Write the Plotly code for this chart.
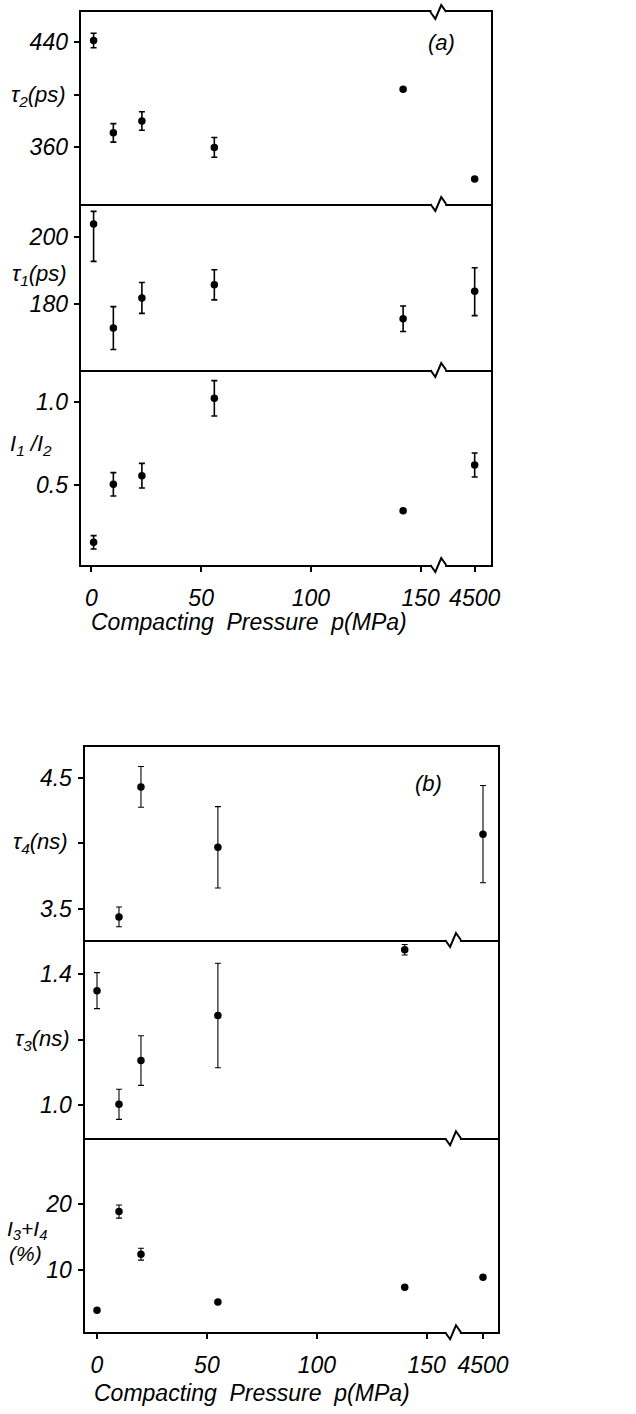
import plotly.graph_objects as go

W, H = 636, 1414

# ---------------- data ----------------
# panel (a)
p_a = [1, 10, 23, 56, 142, 4500]
tau2 = [441, 371, 380, 360, 404, 336]
tau2_err = [5.5, 7, 7, 7.5, 0, 0]
tau1 = [203.8, 172.8, 181.8, 185.7, 175.6, 183.8]
tau1_err_plus = [3.8, 6.4, 4.6, 4.5, 3.8, 7.0]
tau1_err_minus = [11.1, 6.4, 4.6, 4.5, 3.8, 7.3]
ratio = [0.156, 0.504, 0.556, 1.02, 0.346, 0.62]
ratio_err = [0.04, 0.07, 0.074, 0.106, 0, 0.072]

# panel (b)
p_b = [0, 10, 20, 55, 140, 4500]
tau4 = [None, 3.44, 4.43, 3.97, None, 4.07]
tau4_err = [0, 0.075, 0.155, 0.31, 0, 0.37]
tau3 = [1.35, 1.002, 1.136, 1.274, 1.475, None]
tau3_err = [0.055, 0.046, 0.076, 0.16, 0.016, 0]
i34 = [3.9, 18.85, 12.4, 5.15, 7.4, 8.9]
i34_err = [0, 1.0, 0.9, 0, 0, 0]

x_tick_vals = [0, 50, 100, 150, 4500]
x_tick_text = ["0", "50", "100", "150", "4500"]

# broken axis: values above 150 are drawn right of the break
BREAK_A = 174.6
BREAK_B = 175.6


def brk(vals, pos):
    return [v if v <= 150 else pos for v in vals]


FONT = dict(family="Liberation Sans", size=23, color="black", style="italic")


def px(x):
    return x / W


def py(y):
    return 1 - y / H


panels = [
    dict(xd=(82, 500), yd=(12, 204), yr=(317.1, 462.6), tv=[360, 400, 440], tt=["360", "", "440"],
         x=brk(p_a, BREAK_A), y=tau2, ep=tau2_err, em=tau2_err, lw=1.6, xr=(-4.93, 182.2),
         top=True, bottom=False, brkpos=BREAK_A),
    dict(xd=(82, 500), yd=(204, 370), yr=(160.3, 209.8), tv=[180, 200], tt=["180", "200"],
         x=brk(p_a, BREAK_A), y=tau1, ep=tau1_err_plus, em=tau1_err_minus, lw=1.6, xr=(-4.93, 182.2),
         top=False, bottom=False, brkpos=BREAK_A),
    dict(xd=(82, 500), yd=(370, 565), yr=(0.02, 1.19), tv=[0.5, 1.0], tt=["0.5", "1.0"],
         x=brk(p_a, BREAK_A), y=ratio, ep=ratio_err, em=ratio_err, lw=1.6, xr=(-4.93, 182.2),
         top=False, bottom=True, brkpos=BREAK_A),
    dict(xd=(86, 506.7), yd=(746.7, 940), yr=(3.264, 4.736), tv=[3.5, 4.0, 4.5], tt=["3.5", "", "4.5"],
         x=brk(p_b, BREAK_B), y=tau4, ep=tau4_err, em=tau4_err, lw=1.1, xr=(-5.68, 182.4),
         top=True, bottom=False, brkpos=BREAK_B),
    dict(xd=(86, 506.7), yd=(940, 1138.3), yr=(0.898, 1.505), tv=[1.0, 1.2, 1.4], tt=["1.0", "", "1.4"],
         x=brk(p_b, BREAK_B), y=tau3, ep=tau3_err, em=tau3_err, lw=1.1, xr=(-5.68, 182.4),
         top=False, bottom=False, brkpos=BREAK_B),
    dict(xd=(86, 506.7), yd=(1138.3, 1332.3), yr=(0.56, 29.95), tv=[10, 20], tt=["10", "20"],
         x=brk(p_b, BREAK_B), y=i34, ep=i34_err, em=i34_err, lw=1.1, xr=(-5.68, 182.4),
         top=False, bottom=True, brkpos=BREAK_B),
]

fig = go.Figure()
layout = dict(width=W, height=H, autosize=False, margin=dict(l=0, r=0, t=0, b=0),
              paper_bgcolor="white", plot_bgcolor="white", showlegend=False, font=FONT)

n = len(panels)
for i, p in enumerate(panels, start=1):
    xa = "xaxis" if i == 1 else f"xaxis{i}"
    ya = "yaxis" if i == 1 else f"yaxis{i}"
    xs = "x" if i == 1 else f"x{i}"
    ys = "y" if i == 1 else f"y{i}"
    fig.add_trace(go.Scatter(
        x=p["x"], y=p["y"], mode="markers", xaxis=xs, yaxis=ys,
        marker=dict(size=7.5, color="black"),
        error_y=dict(type="data", array=p["ep"], arrayminus=p["em"], symmetric=False,
                     color="black", thickness=p["lw"], width=3),
        cliponaxis=False,
    ))
    xax = dict(domain=[px(p["xd"][0]), px(p["xd"][1])], range=list(p["xr"]), anchor=ys,
               showline=True, mirror=p["top"], linecolor="black", linewidth=2,
               showgrid=False, zeroline=False, fixedrange=True)
    if p["bottom"]:
        xax.update(tickmode="array", tickvals=[v if v <= 150 else p["brkpos"] for v in x_tick_vals],
                   ticktext=x_tick_text, ticks="outside", ticklen=5, tickwidth=2, tickcolor="black",
                   tickfont=FONT, ticklabelstandoff=6)
    else:
        xax.update(showticklabels=False, ticks="")
    layout[xa] = xax
    layout[ya] = dict(domain=[py(p["yd"][1]), py(p["yd"][0])], range=list(p["yr"]), anchor=xs,
                      showline=True, mirror=True, linecolor="black", linewidth=2,
                      showgrid=False, zeroline=False, fixedrange=True,
                      tickmode="array", tickvals=p["tv"], ticktext=p["tt"],
                      ticks="outside", ticklen=5, tickwidth=2, tickcolor="black",
                      tickfont=FONT, ticklabelstandoff=1)
    # overlay axis giving the inner half of each crossing tick
    oy = f"yaxis{i + n}"
    layout[oy] = dict(overlaying=ys, anchor=xs, side="left", range=list(p["yr"]),
                      tickmode="array", tickvals=p["tv"], ticks="inside", ticklen=5, tickwidth=2,
                      tickcolor="black", showticklabels=False, showline=False, showgrid=False,
                      zeroline=False, fixedrange=True)

# inner halves of the x ticks
for k, i in enumerate([3, 6]):
    p = panels[i - 1]
    layout[f"xaxis{2 * n + 1 + k}"] = dict(
        overlaying=f"x{i}", anchor=f"y{i}", side="bottom", range=list(p["xr"]),
        tickmode="array", tickvals=[v if v <= 150 else p["brkpos"] for v in x_tick_vals],
        ticks="inside", ticklen=5, tickwidth=2, tickcolor="black", showticklabels=False,
        showline=False, showgrid=False, zeroline=False, fixedrange=True)

fig.update_layout(**layout)

# ---------------- labels ----------------
ann = []


def label(text, x, y, xanchor="right", size=22):
    ann.append(dict(text=text, x=px(x), y=py(y), xref="paper", yref="paper",
                    xanchor=xanchor, yanchor="middle", showarrow=False,
                    font=dict(FONT, size=size)))


label("τ<sub>2</sub>(ps)", 69, 96)
label("τ<sub>1</sub>(ps)", 70, 275)
label("I<sub>1</sub> /I<sub>2</sub>", 55, 445)
label("τ<sub>4</sub>(ns)", 71, 843)
label("τ<sub>3</sub>(ns)", 73, 1040)
label("I<sub>3</sub>+I<sub>4</sub>", 27, 1230, xanchor="center", size=21)
label("(%)", 26, 1253, xanchor="center", size=21)
label("(a)", 449, 43, xanchor="center")
label("(b)", 436, 783, xanchor="center")
label("Compacting  Pressure  p(MPa)", 253, 622, xanchor="center", size=23)
label("Compacting  Pressure  p(MPa)", 256, 1393, xanchor="center", size=23)
fig.update_layout(annotations=ann)

# ---------------- axis break marks ----------------
shapes = []


def brk_mark(xc, y0):
    shapes.append(dict(type="rect", xref="paper", yref="paper", layer="above",
                       x0=px(xc - 7), x1=px(xc + 7), y0=py(y0 + 2), y1=py(y0 - 2),
                       line=dict(width=0), fillcolor="white"))
    path = (f"M {px(xc - 8)} {py(y0)} L {px(xc - 3)} {py(y0 + 7)} "
            f"L {px(xc + 3)} {py(y0 - 7)} L {px(xc + 8)} {py(y0)}")
    shapes.append(dict(type="path", xref="paper", yref="paper", layer="above", path=path,
                       line=dict(color="black", width=2)))


for y0 in (12, 204, 370, 565):
    brk_mark(446, y0)
for y0 in (940, 1138.3, 1332.3):
    brk_mark(461, y0)
fig.update_layout(shapes=shapes)

fig.write_html("out.html")
